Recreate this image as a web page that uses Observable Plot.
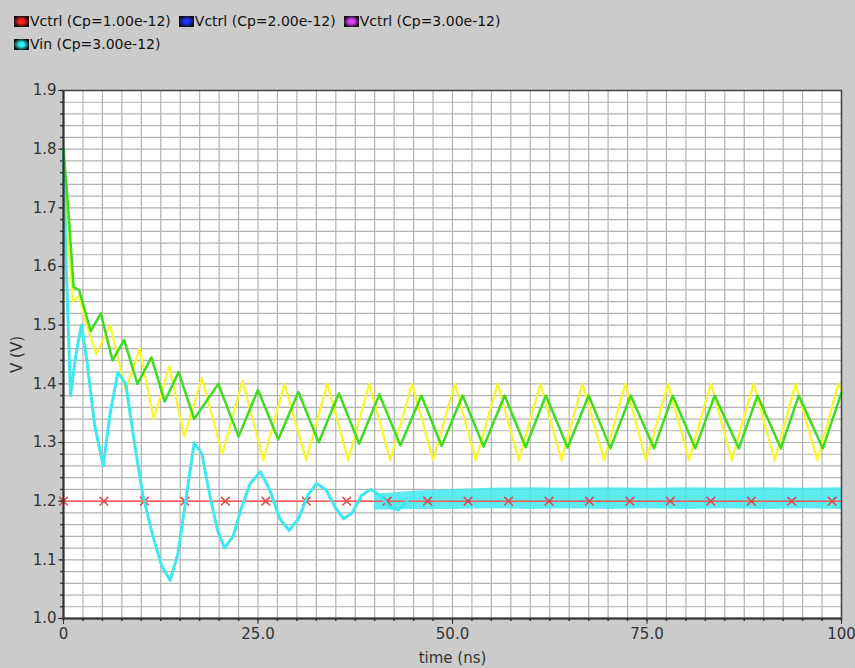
<!DOCTYPE html>
<html><head><meta charset="utf-8">
<script src="https://cdn.jsdelivr.net/npm/d3@7"></script>
<script src="https://cdn.jsdelivr.net/npm/@observablehq/plot@0.6"></script>
<style>
html,body{margin:0;padding:0;background:#cbcbcb;width:855px;height:668px;overflow:hidden;font-family:"DejaVu Sans",sans-serif;}
#legend{height:60px;box-sizing:border-box;padding:10px 0 0 14px;font-size:14px;color:#111;line-height:23px;}
.item{display:inline-block;margin-right:8px;white-space:nowrap;}
.sw{display:inline-block;width:15px;height:11px;vertical-align:-1px;margin-right:1px;}
</style></head><body>
<div id="legend"></div>
<div id="chart"></div>
<script>
// ---- data ----
const legendLabels = ["Vctrl (Cp=1.00e-12)", "Vctrl (Cp=2.00e-12)", "Vctrl (Cp=3.00e-12)", "Vin (Cp=3.00e-12)"];
const legendColors = ["#ff2020", "#2030ff", "#e040ff", "#30f0f0"];

const xTicks = [0, 25, 50, 75, 100];
const xTickLabels = ["0", "25.0", "50.0", "75.0", "100"];
const yTicks = [1.0, 1.1, 1.2, 1.3, 1.4, 1.5, 1.6, 1.7, 1.8, 1.9];

// red Vctrl (constant) and its markers
const redT = [0, 100];
const redV = [1.2, 1.2];
const markerT = [0, 5.2, 10.4, 15.6, 20.8, 26.0, 31.2, 36.4, 41.6, 46.8, 52.0, 57.2, 62.4, 67.6, 72.8, 78.0, 83.2, 88.4, 93.6, 98.8];

// yellow trace
const yellowT = [0, 0.5, 1.2, 2.0, 3.0, 4.2, 6.0, 8.0, 9.8, 11.6, 13.6, 15.5, 17.8, 20.4,
  23.0, 25.7, 28.4, 31.2, 33.9, 36.6, 39.3, 42.0, 44.8, 47.5, 50.3, 53.0, 55.8, 58.5, 61.3, 64.0, 66.7, 69.5,
  72.2, 74.9, 77.7, 80.4, 83.2, 85.9, 88.7, 91.4, 94.1, 96.9, 99.6, 100];
const yellowV = [1.80, 1.66, 1.54, 1.55, 1.50, 1.45, 1.50, 1.39, 1.46, 1.34, 1.43, 1.31, 1.41, 1.28,
  1.405, 1.27, 1.40, 1.27, 1.40, 1.27, 1.40, 1.27, 1.40, 1.27, 1.40, 1.27, 1.40, 1.27, 1.40, 1.27, 1.40, 1.27,
  1.40, 1.27, 1.40, 1.27, 1.40, 1.27, 1.40, 1.27, 1.40, 1.27, 1.40, 1.39];

// green trace
const greenT = [0, 0.6, 1.3, 2.0, 3.5, 4.8, 6.3, 7.8, 9.5, 11.3, 13.0, 14.8, 16.8, 19.9, 22.5, 25.0, 27.6, 30.2,
  32.8, 35.4, 38.0, 40.6, 43.3, 46.0, 48.6, 51.3, 54.0, 56.7, 59.4, 62.0, 64.8, 67.5, 70.3, 72.9, 75.9, 78.3,
  81.2, 83.7, 86.8, 89.2, 92.2, 94.5, 97.6, 100];
const greenV = [1.80, 1.70, 1.565, 1.56, 1.49, 1.52, 1.44, 1.475, 1.40, 1.445, 1.37, 1.42, 1.34, 1.40, 1.31, 1.39, 1.305, 1.386,
  1.30, 1.384, 1.298, 1.382, 1.295, 1.38, 1.294, 1.38, 1.293, 1.38, 1.292, 1.38, 1.291, 1.38, 1.29, 1.38, 1.29, 1.38,
  1.29, 1.38, 1.29, 1.38, 1.29, 1.38, 1.29, 1.385];

// cyan Vin trace (early damped part)
const cyanT = [0, 0.3, 0.9, 1.6, 2.3, 3.0, 4.0, 5.1, 6.0, 7.0, 8.0, 9.0, 10.2, 11.5, 12.6, 13.7, 14.7, 15.7, 16.8, 17.8,
  18.8, 19.8, 20.7, 21.8, 22.9, 24.0, 25.3, 26.5, 27.8, 29.0, 30.2, 31.4, 32.5, 33.7, 34.9, 36.0, 37.1, 38.3, 39.5,
  40.7, 41.9, 43.0, 44.2];
const cyanV = [1.80, 1.62, 1.38, 1.45, 1.50, 1.44, 1.33, 1.26, 1.35, 1.42, 1.40, 1.31, 1.21, 1.14, 1.09, 1.065, 1.11, 1.20, 1.30, 1.28,
  1.21, 1.15, 1.12, 1.14, 1.19, 1.23, 1.25, 1.22, 1.17, 1.15, 1.17, 1.21, 1.23, 1.22, 1.19, 1.17, 1.18, 1.21, 1.22,
  1.21, 1.19, 1.185, 1.20];
// cyan Vin noisy band (late part): lower / upper envelope
const bandT = [40, 45, 50, 55, 60, 65, 70, 75, 80, 85, 90, 95, 100];
const bandLo = [1.185, 1.186, 1.186, 1.187, 1.186, 1.187, 1.186, 1.187, 1.186, 1.187, 1.186, 1.187, 1.186];
const bandHi = [1.212, 1.217, 1.220, 1.222, 1.223, 1.222, 1.223, 1.222, 1.223, 1.222, 1.223, 1.222, 1.223];

// grid & minor ticks
const xGrid = d3.range(0, 100.01, 2.5);
const yGrid = d3.range(0, 46).map(i => +(1 + i * 0.02).toFixed(2));

// ---- build ----
const zip = (t, v) => t.map((d, i) => ({t: d, v: v[i]}));
const red = zip(redT, redV), yellow = zip(yellowT, yellowV), green = zip(greenT, greenV), cyan = zip(cyanT, cyanV);
const band = bandT.map((d, i) => ({t: d, lo: bandLo[i], hi: bandHi[i]}));
const markers = markerT.map(t => ({t, v: 1.2}));

const lg = document.getElementById("legend");
const rows = [[0,1,2],[3]];
rows.forEach(r => {
  const row = document.createElement("div");
  r.forEach(i => {
    const it = document.createElement("span"); it.className = "item";
    const sw = document.createElement("span"); sw.className = "sw";
    sw.style.background = `radial-gradient(ellipse at center, ${legendColors[i]} 0%, ${legendColors[i]} 25%, #101010 75%)`;
    it.appendChild(sw); it.appendChild(document.createTextNode(legendLabels[i]));
    row.appendChild(it);
  });
  lg.appendChild(row);
});

const chart = Plot.plot({
  width: 855, height: 608,
  marginTop: 30, marginBottom: 50, marginLeft: 63, marginRight: 14,
  style: {background: "#cbcbcb", color: "#333", fontFamily: "DejaVu Sans, sans-serif", fontSize: "15px"},
  x: {domain: [0, 100], ticks: xTicks, tickFormat: d => xTickLabels[xTicks.indexOf(d)], tickSize: 6, tickPadding: 4,
      label: "time (ns)", labelAnchor: "center", labelOffset: 44, labelArrow: "none"},
  y: {domain: [1.0, 1.9], ticks: yTicks, tickFormat: d => d.toFixed(1), tickSize: 5, tickPadding: 2,
      label: "V (V)", labelAnchor: "center", labelOffset: 52, labelArrow: "none"},
  marks: [
    Plot.frame({fill: "white"}),
    Plot.ruleX(xGrid, {x: d => d, stroke: "#b2b2b2", strokeWidth: 1.2}),
    Plot.ruleY(yGrid, {y: d => d, stroke: "#b2b2b2", strokeWidth: 1.2}),
    Plot.ruleX(xGrid, {x: d => d, y1: 1.0, y2: 0.995, stroke: "#333", strokeWidth: 1.5}),
    Plot.ruleY(yGrid, {y: d => d, x1: 0, x2: -0.35, stroke: "#333", strokeWidth: 1.5}),
    Plot.areaY(band, {x: "t", y1: "lo", y2: "hi", fill: "#3ee8ee", fillOpacity: 0.85}),
    Plot.line(red, {x: "t", y: "v", stroke: "#ff5a5a", strokeWidth: 1.5}),
    Plot.dot(markers, {x: "t", y: "v", symbol: "times", r: 4, stroke: "#e04848", strokeWidth: 1.5}),
    Plot.line(yellow, {x: "t", y: "v", stroke: "#f7f72a", strokeWidth: 2.2}),
    Plot.line(cyan, {x: "t", y: "v", stroke: "#3ee8ee", strokeWidth: 3}),
    Plot.line(green, {x: "t", y: "v", stroke: "#3edc1e", strokeWidth: 2.5}),
    Plot.frame({stroke: "#444", strokeWidth: 1.5}),
    Plot.ruleX([0], {stroke: "#333", strokeWidth: 2}),
    Plot.ruleY([1.0], {stroke: "#333", strokeWidth: 2})
  ]
});
document.getElementById("chart").appendChild(chart);
</script>
</body></html>
